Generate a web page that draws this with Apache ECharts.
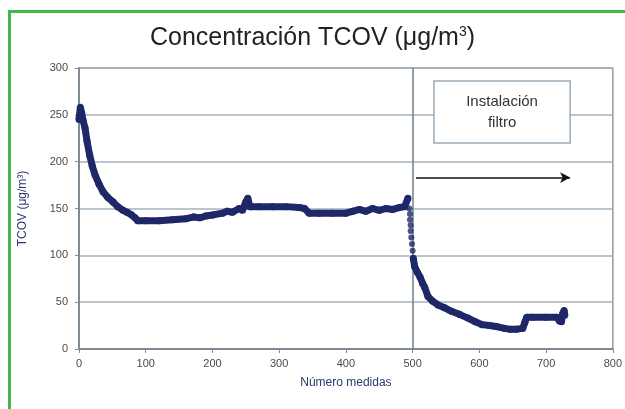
<!DOCTYPE html>
<html>
<head>
<meta charset="utf-8">
<script src="https://cdn.jsdelivr.net/npm/echarts@6/dist/echarts.min.js"></script>
<style>
html,body{margin:0;padding:0;background:#fff;}
#c{width:625px;height:409px;}
</style>
</head>
<body>
<div id="c"></div>
<script>
// Before filter installation
var beforeX = [0,2,4,6,9,12,16,20,24,30,36,43,51,58,66,72,79,84,88,100,120,140,160,172,181,190,200,215,222,230,240,245,250,253,256,270,290,310,330,338,345,360,380,400,410,420,430,440,450,460,470,480,488,493];
var beforeY = [245,258,252,244,236,222,207,195,186,176,168,162,157,152,148,146,143,140,137,137,137,138,139,141,140,142,143,145,147,146,150,148,157,161,152,152,152,152,151,150,145,145,145,145,147,149,147,150,148,150,149,151,152,161];
// Transition points
var dropX = [495,496,496,497,497,498,499,500];
var dropY = [150,144,138,132,126,119,112,105];
// After filter installation
var afterX = [501,503,507,511,515,518,523,530,538,548,559,570,583,594,604,615,625,638,646,655,665,668,671,680,700,716,720,723,725,727,728];
var afterY = [97,88,82,77,70,66,56,51,47,44,40,37,33,29,26,25,24,22,21,21,22,28,34,34,34,34,30,29,38,41,36];
var xTicks = [0,100,200,300,400,500,600,700,800];
var yTicks = [0,50,100,150,200,250,300];

function pairs(xs, ys){ return xs.map(function(x,i){ return [x, ys[i]]; }); }

var navy = '#1e2868';
var font = 'Liberation Sans, Arial, sans-serif';
var chart = echarts.init(document.getElementById('c'));
chart.setOption({
  backgroundColor: '#fff',
  animation: false,
  title: {
    text: '{a|Concentración TCOV (μg/m}{s|3}{a|)}',
    left: 'center',
    top: 20,
    textStyle: {
      fontWeight: 'normal',
      rich: {
        a: {fontFamily: font, fontSize: 25, fontWeight: 'normal', color: '#222'},
        s: {fontFamily: font, fontSize: 14, fontWeight: 'normal', color: '#222', verticalAlign: 'top', padding: [0,0,12,0]}
      }
    }
  },
  graphic: [{
    type: 'rect',
    shape: {x: 9.5, y: 11.5, width: 700, height: 500},
    style: {fill: 'none', stroke: '#45b649', lineWidth: 3},
    silent: true
  }],
  grid: {left: 79, right: 12, top: 68, bottom: 60, show: true, borderColor: '#8e9ba6', borderWidth: 1.5, backgroundColor: '#fff'},
  xAxis: {
    type: 'value', min: 0, max: 800, interval: 100,
    name: 'Número medidas', nameLocation: 'middle', nameGap: 28,
    nameTextStyle: {fontFamily: font, fontSize: 12, color: '#2a3a6a'},
    axisLine: {show: true, lineStyle: {color: '#7f8c97', width: 2}},
    axisTick: {show: true, length: 4, lineStyle: {color: '#7f8c97'}},
    axisLabel: {fontFamily: font, fontSize: 11, color: '#4a4a4a', margin: 9},
    splitLine: {show: false}
  },
  yAxis: {
    type: 'value', min: 0, max: 300, interval: 50,
    name: 'TCOV (μg/m³)', nameLocation: 'middle', nameGap: 50, nameRotate: 90,
    nameTextStyle: {fontFamily: font, fontSize: 12, color: '#2a3a6a'},
    axisLine: {show: true, lineStyle: {color: '#7f8c97', width: 2}},
    axisTick: {show: true, length: 4, lineStyle: {color: '#7f8c97'}},
    axisLabel: {fontFamily: font, fontSize: 11, color: '#4a4a4a', margin: 11},
    splitLine: {show: true, lineStyle: {color: '#a3b3bf', width: 1.5}}
  },
  series: [
    {
      type: 'line', data: pairs(beforeX, beforeY),
      showSymbol: true, symbol: 'circle', symbolSize: 7,
      itemStyle: {color: navy}, lineStyle: {color: navy, width: 7},
      z: 5,
      markLine: {
        silent: true, symbol: 'none', animation: false,
        label: {show: false},
        lineStyle: {color: '#6f7c88', width: 1.5, type: 'solid'},
        data: [{xAxis: 500}]
      },
      markArea: {
        silent: true,
        itemStyle: {color: '#fff', borderColor: '#9aabb8', borderWidth: 1.5},
        label: {show: true, position: 'inside', fontFamily: font, fontSize: 15, color: '#333', lineHeight: 21},
        data: [[{name: 'Instalación\nfiltro', coord: [532, 286]}, {coord: [736, 220]}]]
      }
    },
    {
      type: 'scatter', data: pairs(dropX, dropY),
      symbol: 'circle', symbolSize: 6, itemStyle: {color: navy}, z: 5
    },
    {
      type: 'line', data: pairs(afterX, afterY),
      showSymbol: true, symbol: 'circle', symbolSize: 7,
      itemStyle: {color: navy}, lineStyle: {color: navy, width: 7},
      z: 5,
      markLine: {
        silent: true, symbol: ['none', 'arrow'], symbolSize: [8, 10], animation: false,
        label: {show: false},
        lineStyle: {color: '#111', width: 1.5, type: 'solid'},
        data: [[{coord: [505, 183]}, {coord: [736, 183]}]]
      }
    }
  ]
});
</script>
</body>
</html>
